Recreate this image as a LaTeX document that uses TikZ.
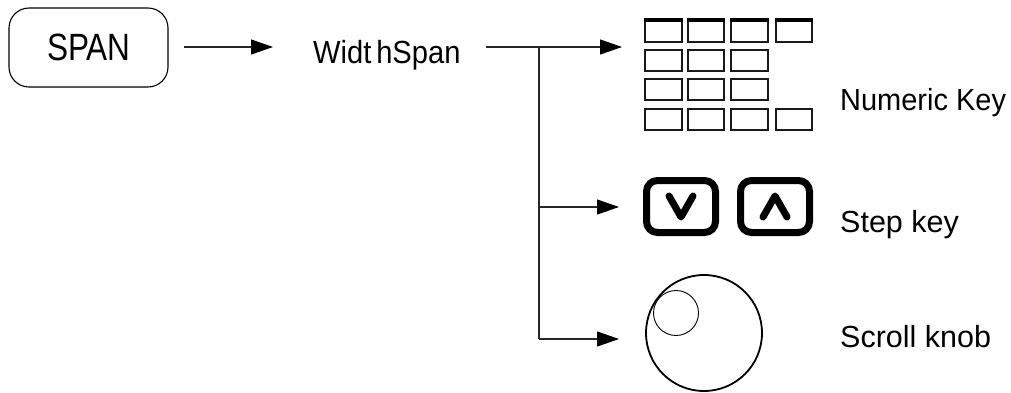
\documentclass[tikz,border=0pt]{standalone}
\usepackage{fontspec}
\setmainfont{Liberation Sans}
\usetikzlibrary{arrows.meta}
\newcommand{\squeezed}[2]{\scalebox{#1}[1]{#2}}
\tikzset{
  conn/.style={line width=1.1pt,black!85},
  arrowconn/.style={conn,-{Triangle[length=22pt,width=15pt,color=black]}},
  labeltext/.style={inner sep=0pt,anchor=base west,font=\fontsize{30.5}{33}\selectfont},
  keycap/.style={draw,line width=1.3pt,black!90,fill=white},
  stepkey/.style={draw,line width=7pt,rounded corners=11pt,minimum width=69pt,minimum height=52pt,inner sep=0pt},
  chevron/.style={line width=7pt,line cap=round,line join=round},
}
\begin{document}
\begin{tikzpicture}[x=1pt,y=-1pt]
\useasboundingbox (0,0) rectangle (1011,392);
% main flow
\node[draw,line width=1.1pt,rounded corners=20pt,minimum width=159pt,minimum height=79pt,inner sep=0pt] (span) at (88.5,47.5) {};
\node[labeltext,font=\fontsize{38}{40}\selectfont] (spantext) at (47,60) {\squeezed{.83}{SPAN}};
\node[labeltext,font=\fontsize{32}{34}\selectfont] (width) at (313,63) {\squeezed{.91}{Widt\,hSpan}};
\coordinate (a1s) at (184,47);
\coordinate (a1e) at (273,47);
\coordinate (wout) at (486,47);
\coordinate (j0) at (539,47);
\coordinate (j1) at (539,207);
\coordinate (j2) at (539,339);
\coordinate (tkeys) at (622,47);
\coordinate (tstep) at (619,207);
\coordinate (tknob) at (619,339);
\draw[arrowconn] (a1s) -- (a1e);
\draw[arrowconn] (wout) -- (tkeys);
\draw[arrowconn] (j1) -- (tstep);
\draw[conn] (j0) -- (j2);
\draw[arrowconn] (j2) -- (tknob);
% numeric keypad
\foreach \xa/\xb in {645/682,688/724,731/768,776/812}{
  \draw[keycap] (\xa,19) rectangle (\xb,42);
  \fill (\xa-.6,18) rectangle (\xb+.6,22);
  \draw[keycap] (\xa,109) rectangle (\xb,130);
}
\foreach \xa/\xb in {645/682,688/724,731/768}{
  \draw[keycap] (\xa,50) rectangle (\xb,71);
  \draw[keycap] (\xa,79) rectangle (\xb,100);
}
\node[labeltext] (numeric) at (840,110) {\squeezed{.95}{Numeric Key}};
% step keys
\node[stepkey] (down) at (681,206.5) {};
\node[stepkey] (up) at (775,206.5) {};
\draw[chevron] (669,196) -- (681,217) -- (693,196);
\draw[chevron] (763,217) -- (775,196) -- (787,217);
\node[labeltext] (steplabel) at (840,232) {Step key};
% knob
\node[draw,circle,line width=1.8pt,minimum size=116pt,inner sep=0pt] (knob) at (704,333) {};
\node[draw,circle,line width=.9pt,minimum size=45pt,inner sep=0pt] (dimple) at (676,313) {};
\node[labeltext] (knoblabel) at (840,347) {Scroll knob};
\end{tikzpicture}
\end{document}
